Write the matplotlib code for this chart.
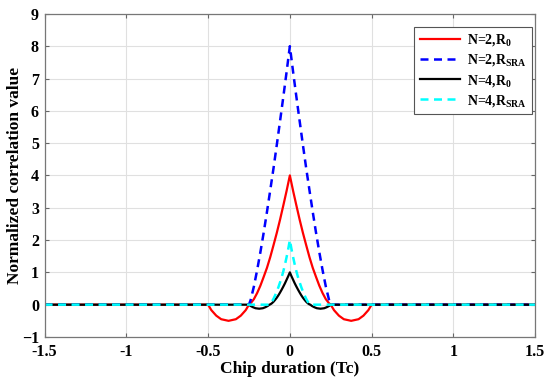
import matplotlib
matplotlib.use("Agg")
import matplotlib.pyplot as plt

# N=2, R0 (red solid)
x_n2_r0 = [-1.5, -0.5, -0.48, -0.45, -0.42, -0.375, -0.33, -0.30, -0.27, -0.25,
           -0.24, -0.22, -0.20, -0.18, -0.16, -0.14, -0.12, -0.10, -0.08, -0.06, -0.04, -0.02,
           0.0,
           0.02, 0.04, 0.06, 0.08, 0.10, 0.12, 0.14, 0.16, 0.18, 0.20, 0.22, 0.24,
           0.25, 0.27, 0.30, 0.33, 0.375, 0.42, 0.45, 0.48, 0.5, 1.5]
y_n2_r0 = [0.0, 0.0, -0.17, -0.34, -0.45, -0.5, -0.45, -0.34, -0.17, 0.0,
           0.04, 0.17, 0.36, 0.59, 0.86, 1.14, 1.47, 1.84, 2.22, 2.63, 3.07, 3.52,
           4.0,
           3.52, 3.07, 2.63, 2.22, 1.84, 1.47, 1.14, 0.86, 0.59, 0.36, 0.17, 0.04,
           0.0, -0.17, -0.34, -0.45, -0.5, -0.45, -0.34, -0.17, 0.0, 0.0]

# N=2, R_SRA (blue dashed)
x_n2_sra = [-1.5, -0.25, -0.24, -0.22, -0.20, -0.18, -0.16, -0.14, -0.12, -0.10,
            -0.08, -0.06, -0.04, -0.02, 0.0, 0.02, 0.04, 0.06, 0.08, 0.10, 0.12,
            0.14, 0.16, 0.18, 0.20, 0.22, 0.24, 0.25, 1.5]
y_n2_sra = [0.0, 0.0, 0.14, 0.56, 1.07, 1.63, 2.23, 2.87, 3.54, 4.22,
            4.94, 5.68, 6.43, 7.2, 8.0, 7.2, 6.43, 5.68, 4.94, 4.22, 3.54,
            2.87, 2.23, 1.63, 1.07, 0.56, 0.14, 0.0, 0.0]

# N=4, R0 (black solid)
x_n4_r0 = [-1.5, -0.25, -0.24, -0.225, -0.21, -0.1875, -0.165, -0.15, -0.135, -0.125,
           -0.12, -0.11, -0.10, -0.09, -0.08, -0.07, -0.06, -0.05, -0.04, -0.03, -0.02,
           -0.01, 0.0, 0.01, 0.02, 0.03, 0.04, 0.05, 0.06, 0.07, 0.08, 0.09, 0.10,
           0.11, 0.12, 0.125, 0.135, 0.15, 0.165, 0.1875, 0.21, 0.225, 0.24, 0.25, 1.5]
y_n4_r0 = [0.0, 0.0, -0.04, -0.08, -0.11, -0.125, -0.11, -0.08, -0.04, 0.0,
           0.008, 0.042, 0.09, 0.15, 0.215, 0.29, 0.375, 0.465, 0.56, 0.66, 0.77,
           0.88, 1.0, 0.88, 0.77, 0.66, 0.56, 0.465, 0.375, 0.29, 0.215, 0.15, 0.09,
           0.042, 0.008, 0.0, -0.04, -0.08, -0.11, -0.125, -0.11, -0.08, -0.04, 0.0, 0.0]

# N=4, R_SRA (cyan dashed)
x_n4_sra = [-1.5, -0.125, -0.12, -0.11, -0.10, -0.09, -0.08, -0.07, -0.06, -0.05,
            -0.04, -0.03, -0.02, -0.01, 0.0, 0.01, 0.02, 0.03, 0.04, 0.05, 0.06,
            0.07, 0.08, 0.09, 0.10, 0.11, 0.12, 0.125, 1.5]
y_n4_sra = [0.0, 0.0, 0.02, 0.09, 0.18, 0.29, 0.41, 0.54, 0.69, 0.85,
            1.03, 1.24, 1.47, 1.72, 2.0, 1.72, 1.47, 1.24, 1.03, 0.85, 0.69,
            0.54, 0.41, 0.29, 0.18, 0.09, 0.02, 0.0, 0.0]

labels = [r"N=2,R$_{0}$", r"N=2,R$_{\mathrm{SRA}}$", r"N=4,R$_{0}$", r"N=4,R$_{\mathrm{SRA}}$"]
xticks = [-1.5, -1, -0.5, 0, 0.5, 1, 1.5]
xtick_labels = ["-1.5", "-1", "-0.5", "0", "0.5", "1", "1.5"]
yticks = list(range(-1, 10))

plt.rcParams["font.family"] = ["Liberation Serif", "DejaVu Serif"]
plt.rcParams["font.weight"] = "bold"
plt.rcParams["mathtext.fontset"] = "custom"
plt.rcParams["mathtext.rm"] = "Liberation Serif:bold"
plt.rcParams["mathtext.it"] = "Liberation Serif:bold"
plt.rcParams["mathtext.bf"] = "Liberation Serif:bold"

fig = plt.figure(figsize=(5.5, 3.86), dpi=100)
ax = fig.add_axes([0.081, 0.127, 0.892, 0.837])

ax.plot(x_n2_r0, y_n2_r0, color="red", lw=1.6, label=labels[0])
ax.plot(x_n2_sra, y_n2_sra, color="blue", lw=1.8, ls=(0, (3.2, 2.2)), label=labels[1])
ax.plot(x_n4_r0, y_n4_r0, color="black", lw=1.6, label=labels[2])
ax.plot(x_n4_sra, y_n4_sra, color="cyan", lw=1.8, ls=(0, (3.2, 2.2)), label=labels[3])

ax.set_xlim(-1.5, 1.5)
ax.set_ylim(-1, 9)
ax.set_xticks(xticks)
ax.set_xticklabels(xtick_labels)
ax.set_yticks(yticks)
ax.grid(True, color="#e0e0e0", lw=0.8)
ax.set_axisbelow(True)
ax.tick_params(direction="in", top=True, right=True, length=3, width=0.8,
               colors="#666666", labelcolor="black", labelsize=11.5)
ax.tick_params(axis="x", pad=5)
ax.tick_params(axis="y", pad=4)
for s in ax.spines.values():
    s.set_color("#777777")
    s.set_linewidth(0.9)

ax.set_xlabel("Chip duration (Tc)", fontsize=12.5, fontweight="bold", labelpad=1)
ax.set_ylabel("Normalized correlation value", fontsize=12.5, fontweight="bold", labelpad=-1)

leg = ax.legend(loc="upper right", bbox_to_anchor=(0.994, 0.96), borderaxespad=0,
                fontsize=10, fancybox=False, framealpha=1, edgecolor="#555555",
                handlelength=2.9, labelspacing=0.3, borderpad=0.4, handletextpad=0.5)
leg.get_frame().set_linewidth(0.8)

fig.savefig("out.png", dpi=100)
